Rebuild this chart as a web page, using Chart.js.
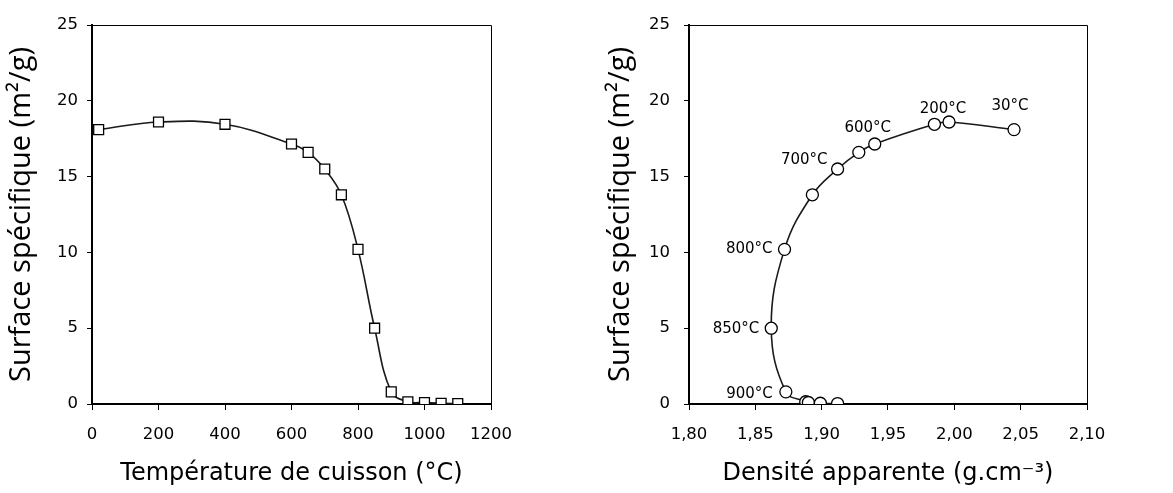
<!DOCTYPE html>
<html>
<head>
<meta charset="utf-8">
<script src="https://cdn.jsdelivr.net/npm/chart.js@4"></script>
<style>
  html, body { margin: 0; padding: 0; background: #fff; }
  .box { position: absolute; top: 0; height: 493px; }
  #left { left: 0; width: 586px; }
  #right { left: 586px; width: 587px; }
</style>
</head>
<body>
<div class="box" id="left"><canvas id="chartTemp"></canvas></div>
<div class="box" id="right"><canvas id="chartDens"></canvas></div>
<script>
// data
const temperatures = [20, 200, 400, 600, 650, 700, 750, 800, 850, 900, 950, 1000, 1050, 1100];
const surfaceArea = [18.1, 18.6, 18.45, 17.15, 16.6, 15.5, 13.8, 10.2, 5.0, 0.8, 0.15, 0.1, 0.05, 0.03];
const density = [2.045, 1.996, 1.985, 1.940, 1.928, 1.912, 1.893, 1.872, 1.862, 1.873, 1.888, 1.890, 1.899, 1.912];
const pointLabels = ["30°C", "200°C", "", "600°C", "", "700°C", "", "800°C", "850°C", "900°C", "", "", "", ""];
const surfaceTicks = [0, 5, 10, 15, 20, 25];
const tempTicks = [0, 200, 400, 600, 800, 1000, 1200];
const densityTicks = [1.80, 1.85, 1.90, 1.95, 2.00, 2.05, 2.10];

const tickFont = { family: "DejaVu Sans", size: 16.5 };
const xTitleFont = { family: "DejaVu Sans", size: 24 };
const yTitleFont = { family: "Open Sans", size: 29 };

// thin frame on top and right of the plot area
const framePlugin = {
    id: "frame",
    afterDraw(chart) {
        const { ctx, chartArea: a } = chart;
        ctx.save();
        ctx.strokeStyle = "#000";
        ctx.lineWidth = 1;
        ctx.beginPath();
        ctx.moveTo(a.left, a.top + 0.5);
        ctx.lineTo(a.right + 0.5, a.top + 0.5);
        ctx.lineTo(a.right + 0.5, a.bottom);
        ctx.stroke();
        ctx.restore();
    },
};

// temperature labels next to the density points
const labelOffsets = {
    "30°C": [-4, -23, "center"],
    "200°C": [-6, -13, "center"],
    "600°C": [-7, -16, "center"],
    "700°C": [-10, -9, "right"],
    "800°C": [-12, 0, "right"],
    "850°C": [-12, 1, "right"],
    "900°C": [-13, 2, "right"],
};
const pointLabelPlugin = {
    id: "pointLabels",
    afterDatasetsDraw(chart) {
        const { ctx } = chart;
        const meta = chart.getDatasetMeta(0);
        ctx.save();
        ctx.font = "15px 'DejaVu Sans'";
        ctx.fillStyle = "#000";
        ctx.textBaseline = "middle";
        meta.data.forEach((pt, i) => {
            const txt = pointLabels[i];
            if (!txt) return;
            const [dx, dy, align] = labelOffsets[txt];
            ctx.textAlign = align;
            ctx.fillText(txt, pt.x + dx, pt.y + dy);
        });
        ctx.restore();
    },
};

function yAxis(width, titlePad, labelPad) {
    return {
        min: 0,
        max: 25,
        afterBuildTicks: (s) => { s.ticks = surfaceTicks.map((v) => ({ value: v })); },
        afterFit: (s) => { s.width = width; },
        ticks: { font: tickFont, color: "#000", padding: labelPad },
        grid: { drawOnChartArea: false, drawTicks: true, tickLength: 5, color: "#000" },
        border: { display: true, color: "#000", width: 2 },
        title: { display: true, text: "Surface spécifique (m²/g)", font: yTitleFont, color: "#000", padding: { top: titlePad, bottom: 0 } },
    };
}

function xAxis(min, max, tickValues, title, fmt) {
    return {
        type: "linear",
        min: min,
        max: max,
        afterBuildTicks: (s) => { s.ticks = tickValues.map((v) => ({ value: v })); },
        afterFit: (s) => { s.height = 89; },
        ticks: { font: tickFont, color: "#000", padding: 15, maxRotation: 0, callback: fmt },
        grid: { drawOnChartArea: false, drawTicks: true, tickLength: 6, color: "#000" },
        border: { display: true, color: "#000", width: 2 },
        title: { display: true, text: title, font: xTitleFont, color: "#000", padding: { top: 0, bottom: 5 } },
    };
}

const lineStyle = {
    showLine: true,
    tension: 0.4,
    borderColor: "#1a1a1a",
    borderWidth: 1.6,
    pointBackgroundColor: "#fff",
    pointBorderColor: "#000",
    pointBorderWidth: 1.3,
};

new Chart(document.getElementById("chartTemp"), {
    type: "scatter",
    data: {
        datasets: [{
            ...lineStyle,
            data: temperatures.map((t, i) => ({ x: t, y: surfaceArea[i] })),
            pointStyle: "rect",
            pointRadius: 7,
        }],
    },
    options: {
        responsive: true,
        maintainAspectRatio: false,
        animation: false,
        layout: { padding: { top: 25, right: 95, bottom: 0, left: 0 } },
        plugins: { legend: { display: false }, tooltip: { enabled: false } },
        scales: {
            x: xAxis(0, 1200, tempTicks, "Température de cuisson (°C)", (v) => v),
            y: yAxis(92, 4, 9),
        },
    },
    plugins: [framePlugin],
});

new Chart(document.getElementById("chartDens"), {
    type: "scatter",
    data: {
        datasets: [{
            ...lineStyle,
            data: density.map((d, i) => ({ x: d, y: surfaceArea[i] })),
            pointStyle: "circle",
            pointRadius: 6,
        }],
    },
    options: {
        responsive: true,
        maintainAspectRatio: false,
        animation: false,
        layout: { padding: { top: 25, right: 86, bottom: 0, left: 0 } },
        plugins: { legend: { display: false }, tooltip: { enabled: false } },
        scales: {
            x: xAxis(1.8, 2.1, densityTicks, "Densité apparente (g.cm⁻³)", (v) => v.toFixed(2).replace(".", ",")),
            y: yAxis(103, 17, 14),
        },
    },
    plugins: [framePlugin, pointLabelPlugin],
});
</script>
</body>
</html>
